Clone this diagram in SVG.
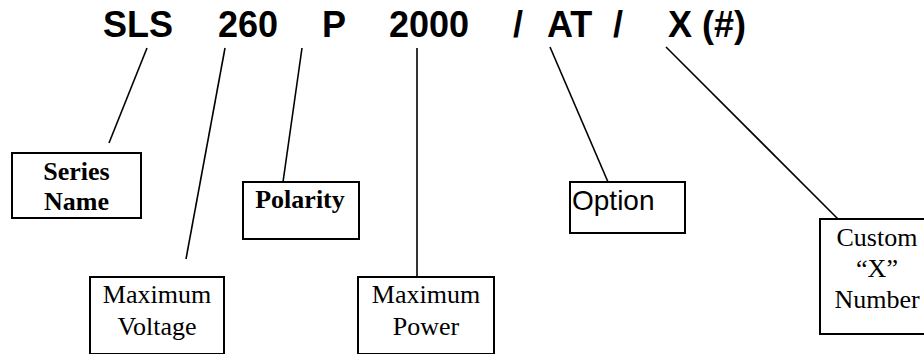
<svg xmlns="http://www.w3.org/2000/svg" width="924" height="354" viewBox="0 0 924 354">
<style>
.box{fill:#fff;stroke:#000;stroke-width:2}
.ln{stroke:#000;stroke-width:1.6;fill:none}
.hd{font-family:"Liberation Sans",Arial,sans-serif;font-weight:bold;font-size:36px;fill:#000}
.tb{font-family:"Liberation Serif","Times New Roman",serif;font-weight:bold;font-size:26px;fill:#000;text-anchor:middle}
.tr{font-family:"Liberation Serif","Times New Roman",serif;font-size:26px;fill:#000;text-anchor:middle}
.ar{font-family:"Liberation Sans",Arial,sans-serif;font-size:28px;fill:#000}
</style>
<rect width="924" height="354" fill="#fff"/>
<g id="header">
<text class="hd" x="103" y="37">SLS</text>
<text class="hd" x="218" y="37">260</text>
<text class="hd" x="322" y="37">P</text>
<text class="hd" x="389" y="37">2000</text>
<text class="hd" x="513" y="37">/</text>
<text class="hd" x="547" y="37">AT</text>
<text class="hd" x="613" y="37">/</text>
<text class="hd" x="668" y="37">X (#)</text>
</g>
<g id="connectors">
<line class="ln" x1="147" y1="48" x2="109" y2="143"/>
<line class="ln" x1="225" y1="48" x2="186" y2="259"/>
<line class="ln" x1="302" y1="48" x2="283" y2="182"/>
<line class="ln" x1="417" y1="48" x2="417" y2="277"/>
<line class="ln" x1="550" y1="47" x2="608" y2="182"/>
<line class="ln" x1="666" y1="47" x2="838" y2="219"/>
</g>
<g id="series-name">
<rect class="box" x="12" y="153" width="129" height="65"/>
<text class="tb" x="76.5" y="180">Series</text>
<text class="tb" x="76.5" y="210">Name</text>
</g>
<g id="polarity">
<rect class="box" x="243" y="182" width="116" height="57"/>
<text class="tb" x="300" y="208">Polarity</text>
</g>
<g id="option">
<rect class="box" x="570" y="182" width="115" height="51"/>
<text class="ar" x="572" y="210">Option</text>
</g>
<g id="max-voltage">
<rect class="box" x="90" y="277" width="134" height="77"/>
<text class="tr" x="157" y="303">Maximum</text>
<text class="tr" x="157" y="335">Voltage</text>
</g>
<g id="max-power">
<rect class="box" x="358" y="277" width="136" height="77"/>
<text class="tr" x="426" y="303">Maximum</text>
<text class="tr" x="426" y="335">Power</text>
</g>
<g id="custom-x">
<rect class="box" x="820" y="219" width="110" height="115"/>
<text class="tr" x="877" y="246">Custom</text>
<text class="tr" x="877" y="277">“X”</text>
<text class="tr" x="877" y="308">Number</text>
</g>
</svg>
